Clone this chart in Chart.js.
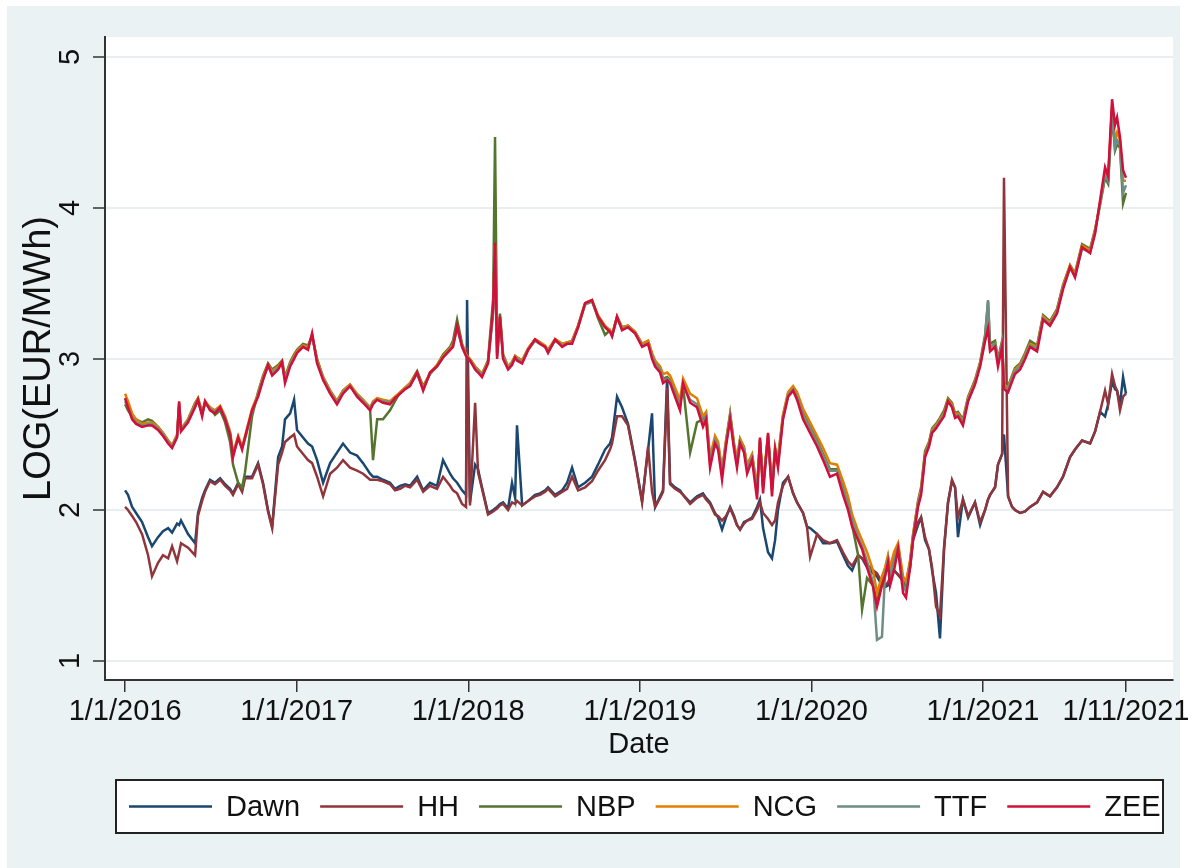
<!DOCTYPE html>
<html lang="en">
<head>
    <meta charset="UTF-8">
    <title>LOG(EUR/MWh) gas hubs</title>
    <style>
        html, body { margin: 0; padding: 0; background: #ffffff; overflow: hidden; }
        #chart { display: block; }
    </style>
</head>
<body>
    <canvas id="chart" width="1199" height="868"></canvas>

    <script src="https://cdn.jsdelivr.net/npm/chart.js"></script>
    <script>
        // dates as decimal years (1/1/2016 .. 1/11/2021)
        const dates = [
            2016.000, 2016.017, 2016.041, 2016.064, 2016.099, 2016.134, 2016.157, 2016.192, 2016.221, 2016.251,
            2016.274, 2016.303, 2016.315, 2016.326, 2016.367, 2016.408, 2016.425, 2016.449, 2016.466, 2016.495,
            2016.524, 2016.554, 2016.583, 2016.612, 2016.629, 2016.659, 2016.682, 2016.699, 2016.740, 2016.775,
            2016.804, 2016.833, 2016.857, 2016.892, 2016.915, 2016.932, 2016.962, 2016.985, 2017.002, 2017.037,
            2017.066, 2017.090, 2017.119, 2017.154, 2017.195, 2017.235, 2017.270, 2017.311, 2017.352, 2017.387,
            2017.428, 2017.445, 2017.469, 2017.503, 2017.544, 2017.573, 2017.603, 2017.632, 2017.661, 2017.702,
            2017.737, 2017.777, 2017.818, 2017.853, 2017.894, 2017.911, 2017.935, 2017.964, 2017.987, 2017.993,
            2018.010, 2018.040, 2018.057, 2018.080, 2018.115, 2018.145, 2018.156, 2018.168, 2018.185, 2018.203,
            2018.232, 2018.255, 2018.273, 2018.284, 2018.314, 2018.349, 2018.389, 2018.418, 2018.448, 2018.465,
            2018.506, 2018.547, 2018.576, 2018.605, 2018.640, 2018.681, 2018.721, 2018.756, 2018.797, 2018.826,
            2018.838, 2018.867, 2018.896, 2018.931, 2018.972, 2019.013, 2019.048, 2019.071, 2019.089, 2019.118,
            2019.135, 2019.159, 2019.176, 2019.205, 2019.234, 2019.252, 2019.293, 2019.333, 2019.368, 2019.386,
            2019.409, 2019.438, 2019.456, 2019.479, 2019.502, 2019.526, 2019.549, 2019.566, 2019.584, 2019.607,
            2019.625, 2019.654, 2019.683, 2019.700, 2019.718, 2019.747, 2019.770, 2019.788, 2019.805, 2019.834,
            2019.864, 2019.893, 2019.916, 2019.951, 2019.974, 2019.992, 2020.033, 2020.068, 2020.108, 2020.149,
            2020.184, 2020.213, 2020.237, 2020.272, 2020.295, 2020.324, 2020.359, 2020.382, 2020.411, 2020.429,
            2020.446, 2020.458, 2020.481, 2020.505, 2020.534, 2020.551, 2020.575, 2020.592, 2020.621, 2020.639,
            2020.662, 2020.685, 2020.703, 2020.726, 2020.749, 2020.773, 2020.796, 2020.819, 2020.837, 2020.854,
            2020.883, 2020.913, 2020.953, 2020.983, 2021.012, 2021.029, 2021.041, 2021.070, 2021.087, 2021.111,
            2021.122, 2021.146, 2021.169, 2021.186, 2021.216, 2021.245, 2021.274, 2021.315, 2021.350, 2021.390,
            2021.431, 2021.466, 2021.507, 2021.536, 2021.577, 2021.624, 2021.653, 2021.682, 2021.711, 2021.729,
            2021.752, 2021.769, 2021.781, 2021.798, 2021.816, 2021.833
        ];

        const dawn = [
            2.13, 2.10, 2.02, 1.98, 1.92, 1.82, 1.76, 1.82, 1.86, 1.88,
            1.85, 1.91, 1.90, 1.93, 1.84, 1.78, 1.98, 2.08, 2.13, 2.20,
            2.18, 2.21, 2.17, 2.14, 2.11, 2.18, 2.13, 2.22, 2.22, 2.31,
            2.18, 2.00, 1.89, 2.35, 2.42, 2.60, 2.64, 2.73, 2.53, 2.48,
            2.44, 2.42, 2.33, 2.18, 2.31, 2.38, 2.44, 2.38, 2.36, 2.31,
            2.24, 2.22, 2.22, 2.20, 2.18, 2.14, 2.16, 2.17, 2.16, 2.22,
            2.13, 2.18, 2.16, 2.33, 2.24, 2.21, 2.18, 2.13, 2.10, 3.39,
            2.05, 2.30, 2.27, 2.15, 1.98, 2.00, 2.01, 2.02, 2.04, 2.05,
            2.01, 2.18, 2.08, 2.56, 2.03, 2.06, 2.10, 2.11, 2.13, 2.15,
            2.10, 2.13, 2.18, 2.28, 2.15, 2.18, 2.22, 2.30, 2.40, 2.44,
            2.48, 2.75, 2.68, 2.57, 2.33, 2.06, 2.40, 2.64, 2.02, 2.09,
            2.13, 2.88, 2.18, 2.15, 2.13, 2.10, 2.05, 2.09, 2.11, 2.08,
            2.05, 1.98, 1.95, 1.87, 1.95, 2.02, 1.96, 1.90, 1.87, 1.92,
            1.93, 1.95, 2.02, 2.07, 1.88, 1.72, 1.68, 1.80, 2.00, 2.18,
            2.22, 2.11, 2.05, 1.98, 1.89, 1.88, 1.84, 1.78, 1.78, 1.79,
            1.70, 1.63, 1.60, 1.70, 1.68, 1.62, 1.58, 1.56, 1.50, 1.49,
            1.50, 1.56, 1.60, 1.57, 1.53, 1.50, 1.62, 1.80, 1.90, 1.95,
            1.80, 1.74, 1.60, 1.45, 1.15, 1.74, 2.05, 2.19, 2.15, 1.82,
            2.07, 1.95, 2.05, 1.90, 2.00, 2.07, 2.10, 2.15, 2.30, 2.37,
            2.50, 2.09, 2.02, 2.00, 1.98, 1.99, 2.02, 2.05, 2.12, 2.09,
            2.15, 2.22, 2.35, 2.40, 2.46, 2.44, 2.52, 2.65, 2.62, 2.70,
            2.85, 2.80, 2.79, 2.70, 2.88, 2.77
        ];

        const hh = [
            2.02, 2.00, 1.96, 1.92, 1.84, 1.70, 1.56, 1.65, 1.70, 1.68,
            1.76, 1.66, 1.72, 1.78, 1.75, 1.70, 1.96, 2.06, 2.12, 2.19,
            2.17, 2.20, 2.16, 2.13, 2.10, 2.17, 2.12, 2.21, 2.21, 2.30,
            2.17, 1.99, 1.88, 2.30, 2.38, 2.45, 2.48, 2.50, 2.42, 2.37,
            2.33, 2.31, 2.22, 2.09, 2.24, 2.28, 2.33, 2.28, 2.26, 2.24,
            2.20, 2.20, 2.20, 2.19, 2.17, 2.13, 2.14, 2.16, 2.15, 2.20,
            2.12, 2.16, 2.14, 2.22, 2.16, 2.13, 2.11, 2.04, 2.02, 3.08,
            2.03, 2.71, 2.25, 2.14, 1.97, 1.99, 2.00, 2.01, 2.03, 2.04,
            2.00, 2.05, 2.04, 2.06, 2.03, 2.06, 2.09, 2.10, 2.12, 2.14,
            2.09, 2.12, 2.14, 2.22, 2.13, 2.15, 2.19, 2.26, 2.33, 2.40,
            2.44, 2.62, 2.62, 2.56, 2.32, 2.05, 2.42, 2.12, 2.02, 2.08,
            2.12, 2.81, 2.17, 2.14, 2.12, 2.10, 2.04, 2.08, 2.10, 2.07,
            2.04, 1.97, 1.96, 1.93, 1.96, 2.01, 1.95, 1.90, 1.87, 1.91,
            1.93, 1.94, 2.00, 2.05, 1.98, 1.94, 1.90, 1.93, 2.05, 2.16,
            2.22, 2.11, 2.05, 1.98, 1.89, 1.69, 1.84, 1.80, 1.78, 1.80,
            1.72, 1.66, 1.63, 1.70, 1.68, 1.64, 1.60, 1.58, 1.52, 1.50,
            1.52, 1.55, 1.60, 1.57, 1.55, 1.52, 1.65, 1.82, 1.92, 1.95,
            1.82, 1.74, 1.62, 1.36, 1.30, 1.76, 2.05, 2.20, 2.15, 1.95,
            2.07, 1.96, 2.05, 1.92, 2.00, 2.07, 2.10, 2.15, 2.30, 2.37,
            4.20, 2.09, 2.02, 2.00, 1.98, 1.99, 2.02, 2.05, 2.12, 2.09,
            2.15, 2.22, 2.35, 2.40, 2.46, 2.44, 2.52, 2.65, 2.79, 2.70,
            2.90, 2.82, 2.79, 2.66, 2.75, 2.77
        ];

        const nbp = [
            2.70, 2.66, 2.62, 2.60, 2.58, 2.60, 2.59, 2.55, 2.51, 2.46,
            2.42, 2.49, 2.68, 2.53, 2.60, 2.71, 2.74, 2.65, 2.70, 2.68,
            2.63, 2.66, 2.58, 2.45, 2.30, 2.18, 2.15, 2.25, 2.62, 2.78,
            2.89, 2.97, 2.93, 2.96, 2.99, 2.88, 2.98, 3.03, 3.06, 3.10,
            3.09, 3.15, 3.00, 2.88, 2.79, 2.72, 2.79, 2.83, 2.76, 2.72,
            2.66, 2.33, 2.60, 2.60, 2.66, 2.72, 2.78, 2.81, 2.84, 2.92,
            2.82, 2.90, 2.96, 3.03, 3.08, 3.12, 3.26, 3.10, 3.03, 3.02,
            3.00, 2.95, 2.93, 2.90, 2.99, 3.40, 4.47, 3.10, 3.30, 3.03,
            2.95, 2.98, 3.02, 3.01, 2.99, 3.07, 3.13, 3.11, 3.08, 3.06,
            3.13, 3.10, 3.11, 3.12, 3.22, 3.37, 3.39, 3.27, 3.16, 3.19,
            3.16, 3.28, 3.21, 3.22, 3.18, 3.10, 3.12, 3.03, 2.98, 2.94,
            2.87, 2.88, 2.86, 2.78, 2.70, 2.82, 2.38, 2.58, 2.60, 2.63,
            2.33, 2.47, 2.43, 2.25, 2.45, 2.64, 2.43, 2.33, 2.47, 2.41,
            2.29, 2.36, 2.14, 2.45, 2.16, 2.48, 2.14, 2.38, 2.35, 2.62,
            2.77, 2.81, 2.76, 2.64, 2.59, 2.55, 2.46, 2.37, 2.27, 2.27,
            2.15, 2.03, 1.90, 1.70, 1.34, 1.55, 1.50, 1.40, 1.52, 1.58,
            1.68, 1.58, 1.68, 1.76, 1.52, 1.48, 1.65, 1.83, 2.06, 2.15,
            2.39, 2.45, 2.54, 2.57, 2.61, 2.66, 2.74, 2.71, 2.64, 2.65,
            2.60, 2.75, 2.86, 2.98, 3.16, 3.38, 3.10, 3.12, 3.00, 3.12,
            2.84, 2.82, 2.89, 2.94, 2.97, 3.04, 3.12, 3.09, 3.29, 3.25,
            3.33, 3.49, 3.62, 3.57, 3.76, 3.73, 3.86, 4.02, 4.20, 4.16,
            4.62, 4.38, 4.42, 4.40, 4.03, 4.10
        ];

        const ncg = [
            2.77, 2.72, 2.64, 2.60, 2.57, 2.58, 2.58, 2.55, 2.51, 2.46,
            2.43, 2.50, 2.71, 2.54, 2.60, 2.70, 2.74, 2.64, 2.72, 2.68,
            2.66, 2.69, 2.62, 2.52, 2.38, 2.49, 2.42, 2.49, 2.67, 2.77,
            2.88, 2.96, 2.92, 2.95, 2.98, 2.87, 2.97, 3.02, 3.05, 3.09,
            3.08, 3.16, 2.99, 2.88, 2.79, 2.72, 2.79, 2.83, 2.77, 2.73,
            2.68, 2.72, 2.74, 2.73, 2.72, 2.75, 2.78, 2.81, 2.84, 2.91,
            2.81, 2.91, 2.96, 3.02, 3.07, 3.10, 3.21, 3.09, 3.03, 3.02,
            3.00, 2.95, 2.93, 2.90, 2.98, 3.32, 3.76, 3.03, 3.27, 3.02,
            2.95, 2.98, 3.02, 3.01, 2.99, 3.07, 3.13, 3.11, 3.09, 3.06,
            3.13, 3.10, 3.11, 3.12, 3.22, 3.37, 3.39, 3.29, 3.22, 3.19,
            3.16, 3.28, 3.21, 3.22, 3.18, 3.10, 3.12, 3.04, 2.99, 2.95,
            2.90, 2.91, 2.89, 2.81, 2.73, 2.87, 2.77, 2.74, 2.62, 2.65,
            2.35, 2.49, 2.45, 2.27, 2.46, 2.63, 2.44, 2.34, 2.47, 2.42,
            2.30, 2.37, 2.15, 2.47, 2.18, 2.50, 2.16, 2.42, 2.33, 2.63,
            2.78, 2.82, 2.78, 2.67, 2.62, 2.58, 2.49, 2.41, 2.31, 2.30,
            2.19, 2.09, 1.97, 1.86, 1.80, 1.72, 1.60, 1.45, 1.56, 1.62,
            1.70, 1.62, 1.72, 1.78, 1.56, 1.52, 1.67, 1.84, 2.05, 2.13,
            2.37, 2.44, 2.53, 2.56, 2.60, 2.64, 2.73, 2.70, 2.63, 2.64,
            2.59, 2.74, 2.85, 2.97, 3.13, 3.25, 3.07, 3.10, 2.98, 3.10,
            2.83, 2.81, 2.88, 2.93, 2.96, 3.03, 3.10, 3.08, 3.28, 3.24,
            3.32, 3.48, 3.62, 3.56, 3.75, 3.72, 3.85, 4.04, 4.24, 4.20,
            4.68, 4.45, 4.50, 4.45, 4.18, 4.18
        ];

        const ttf = [
            2.72, 2.68, 2.61, 2.58, 2.56, 2.57, 2.57, 2.54, 2.50, 2.45,
            2.42, 2.49, 2.70, 2.53, 2.59, 2.69, 2.72, 2.63, 2.71, 2.67,
            2.65, 2.68, 2.61, 2.51, 2.37, 2.47, 2.41, 2.47, 2.65, 2.76,
            2.87, 2.95, 2.91, 2.94, 2.97, 2.86, 2.96, 3.01, 3.04, 3.08,
            3.07, 3.16, 2.98, 2.87, 2.78, 2.71, 2.78, 2.82, 2.76, 2.72,
            2.67, 2.71, 2.73, 2.72, 2.71, 2.74, 2.77, 2.80, 2.83, 2.90,
            2.80, 2.90, 2.95, 3.01, 3.06, 3.09, 3.20, 3.08, 3.02, 3.01,
            2.99, 2.94, 2.92, 2.89, 2.97, 3.30, 3.75, 3.02, 3.26, 3.01,
            2.94, 2.97, 3.01, 3.00, 2.98, 3.06, 3.12, 3.10, 3.08, 3.05,
            3.12, 3.09, 3.10, 3.11, 3.21, 3.36, 3.38, 3.28, 3.21, 3.18,
            3.15, 3.27, 3.20, 3.21, 3.17, 3.09, 3.10, 3.02, 2.97, 2.93,
            2.86, 2.87, 2.85, 2.77, 2.69, 2.83, 2.73, 2.70, 2.58, 2.62,
            2.32, 2.46, 2.42, 2.24, 2.44, 2.62, 2.42, 2.31, 2.45, 2.40,
            2.27, 2.35, 2.12, 2.46, 2.15, 2.49, 2.13, 2.40, 2.30, 2.61,
            2.76, 2.80, 2.75, 2.63, 2.58, 2.54, 2.45, 2.36, 2.26, 2.26,
            2.14, 2.04, 1.93, 1.82, 1.76, 1.66, 1.52, 1.14, 1.16, 1.58,
            1.67, 1.56, 1.66, 1.75, 1.50, 1.46, 1.64, 1.82, 2.04, 2.12,
            2.36, 2.43, 2.52, 2.55, 2.59, 2.63, 2.72, 2.69, 2.62, 2.63,
            2.58, 2.73, 2.84, 2.96, 3.14, 3.39, 3.08, 3.10, 2.98, 3.10,
            2.82, 2.80, 2.87, 2.92, 2.95, 3.02, 3.09, 3.07, 3.27, 3.23,
            3.31, 3.47, 3.60, 3.55, 3.73, 3.71, 3.84, 4.03, 4.22, 4.18,
            4.65, 4.40, 4.45, 4.42, 4.10, 4.15
        ];

        const zee = [
            2.74, 2.68, 2.60, 2.57, 2.55, 2.56, 2.56, 2.53, 2.49, 2.44,
            2.41, 2.48, 2.72, 2.52, 2.58, 2.68, 2.73, 2.62, 2.72, 2.66,
            2.64, 2.68, 2.60, 2.50, 2.35, 2.48, 2.40, 2.48, 2.66, 2.75,
            2.86, 2.96, 2.89, 2.93, 2.98, 2.84, 2.95, 3.00, 3.04, 3.08,
            3.06, 3.17, 2.97, 2.86, 2.77, 2.70, 2.77, 2.82, 2.75, 2.71,
            2.66, 2.70, 2.73, 2.71, 2.70, 2.74, 2.77, 2.80, 2.82, 2.91,
            2.79, 2.91, 2.95, 3.01, 3.06, 3.08, 3.22, 3.08, 3.02, 3.01,
            2.99, 2.93, 2.91, 2.88, 2.97, 3.34, 3.77, 3.00, 3.28, 3.00,
            2.93, 2.96, 3.01, 2.99, 2.97, 3.06, 3.13, 3.10, 3.08, 3.04,
            3.13, 3.08, 3.10, 3.10, 3.21, 3.37, 3.39, 3.28, 3.21, 3.18,
            3.15, 3.28, 3.19, 3.21, 3.17, 3.08, 3.10, 3.00, 2.95, 2.91,
            2.84, 2.86, 2.84, 2.75, 2.66, 2.84, 2.71, 2.68, 2.55, 2.60,
            2.28, 2.44, 2.40, 2.20, 2.42, 2.60, 2.40, 2.28, 2.44, 2.38,
            2.24, 2.33, 2.07, 2.48, 2.11, 2.51, 2.09, 2.40, 2.28, 2.60,
            2.75, 2.79, 2.73, 2.60, 2.55, 2.51, 2.42, 2.33, 2.22, 2.24,
            2.10, 2.00, 1.89, 1.80, 1.74, 1.62, 1.49, 1.36, 1.50, 1.56,
            1.65, 1.50, 1.60, 1.74, 1.45, 1.42, 1.62, 1.80, 2.02, 2.10,
            2.35, 2.42, 2.51, 2.54, 2.58, 2.62, 2.72, 2.68, 2.61, 2.62,
            2.56, 2.72, 2.83, 2.95, 3.12, 3.20, 3.05, 3.08, 2.95, 3.08,
            2.80, 2.78, 2.85, 2.90, 2.93, 3.00, 3.08, 3.05, 3.26, 3.22,
            3.30, 3.46, 3.61, 3.54, 3.74, 3.70, 3.83, 4.05, 4.27, 4.21,
            4.72, 4.55, 4.60, 4.47, 4.25, 4.20
        ];

        const seriesNames = ['Dawn', 'HH', 'NBP', 'NCG', 'TTF', 'ZEE'];
        const seriesValues = [dawn, hh, nbp, ncg, ttf, zee];
        const seriesColors = ['#1a476f', '#90353b', '#55752f', '#e37e00', '#6e8e84', '#d0103a'];

        const xTickValues = [2016, 2017, 2018, 2019, 2020, 2021, 2021.833];
        const xTickLabels = ['1/1/2016', '1/1/2017', '1/1/2018', '1/1/2019', '1/1/2020', '1/1/2021', '1/11/2021'];
        const yTickValues = [1, 2, 3, 4, 5];

        const FONT = '"Liberation Sans", Arial, Helvetica, sans-serif';
        Chart.defaults.font.family = FONT;
        Chart.defaults.font.size = 29;
        Chart.defaults.color = '#111';

        // stata-like background: bluish gray outer region, white plot region
        const background = {
            id: 'background',
            beforeDraw(chart) {
                const ctx = chart.ctx;
                const a = chart.chartArea;
                ctx.save();
                ctx.fillStyle = '#ffffff';
                ctx.fillRect(0, 0, chart.width, chart.height);
                ctx.fillStyle = '#eaf2f3';
                ctx.fillRect(7, 6, 1173, chart.height - 6);
                ctx.fillStyle = '#ffffff';
                ctx.fillRect(a.left, a.top, a.right - a.left, a.bottom - a.top);
                ctx.restore();
            }
        };

        // boxed legend under the axis title
        const legendBox = {
            id: 'legendBox',
            afterDraw(chart) {
                const ctx = chart.ctx;
                const box = { x: 116, y: 780, w: 1047, h: 53 };
                const midY = box.y + box.h / 2;
                ctx.save();
                ctx.fillStyle = '#ffffff';
                ctx.fillRect(box.x, box.y, box.w, box.h);
                ctx.font = '29px ' + FONT;
                ctx.textBaseline = 'middle';
                let x = 129;
                chart.data.datasets.forEach(ds => {
                    ctx.strokeStyle = ds.borderColor;
                    ctx.lineWidth = 2.5;
                    ctx.beginPath();
                    ctx.moveTo(x, midY);
                    ctx.lineTo(x + 83, midY);
                    ctx.stroke();
                    ctx.fillStyle = '#111';
                    ctx.fillText(ds.label, x + 97, midY + 1);
                    x += 97 + ctx.measureText(ds.label).width + 20;
                });
                ctx.strokeStyle = '#222';
                ctx.lineWidth = 2;
                ctx.strokeRect(box.x, box.y, box.w, box.h);
                ctx.restore();
            }
        };

        const datasets = seriesNames.map((name, i) => ({
            label: name,
            data: dates.map((d, j) => ({ x: d, y: seriesValues[i][j] })),
            borderColor: seriesColors[i],
            backgroundColor: seriesColors[i],
            borderWidth: 2.5,
            pointRadius: 0,
            tension: 0,
            fill: false,
            order: seriesNames.length - i   // later series drawn on top
        }));

        new Chart(document.getElementById('chart'), {
            type: 'line',
            data: { datasets: datasets },
            plugins: [background, legendBox],
            options: {
                responsive: false,
                animation: false,
                layout: { padding: { top: 37, right: 26, left: 0, bottom: 0 } },
                plugins: {
                    legend: { display: false },
                    tooltip: { enabled: false }
                },
                scales: {
                    x: {
                        type: 'linear',
                        min: 2015.883,
                        max: 2022.107,
                        afterFit: s => { s.height = 188; },
                        afterBuildTicks: s => { s.ticks = xTickValues.map(v => ({ value: v })); },
                        ticks: {
                            padding: 3,
                            maxRotation: 0,
                            autoSkip: false,
                            callback: v => xTickLabels[xTickValues.indexOf(v)]
                        },
                        grid: {
                            drawOnChartArea: false,
                            drawTicks: true,
                            tickLength: 12,
                            color: '#333',
                            lineWidth: 1.5
                        },
                        border: { color: '#333', width: 2 },
                        title: {
                            display: true,
                            text: 'Date',
                            padding: { top: 0, bottom: 106 }
                        }
                    },
                    y: {
                        min: 0.874,
                        max: 5.132,
                        afterFit: s => { s.width = 105; },
                        afterBuildTicks: s => { s.ticks = yTickValues.map(v => ({ value: v })); },
                        ticks: {
                            padding: 14,
                            minRotation: 90,
                            maxRotation: 90,
                            crossAlign: 'center',
                            callback: v => String(v)
                        },
                        grid: {
                            color: '#e9eef0',
                            lineWidth: 2,
                            tickColor: '#333',
                            tickWidth: 1.5,
                            tickLength: 12
                        },
                        border: { color: '#333', width: 2 },
                        title: {
                            display: true,
                            text: 'LOG(EUR/MWh)',
                            font: { size: 38 },
                            padding: { top: 17, bottom: 0 }
                        }
                    }
                }
            }
        });
    </script>
</body>
</html>
